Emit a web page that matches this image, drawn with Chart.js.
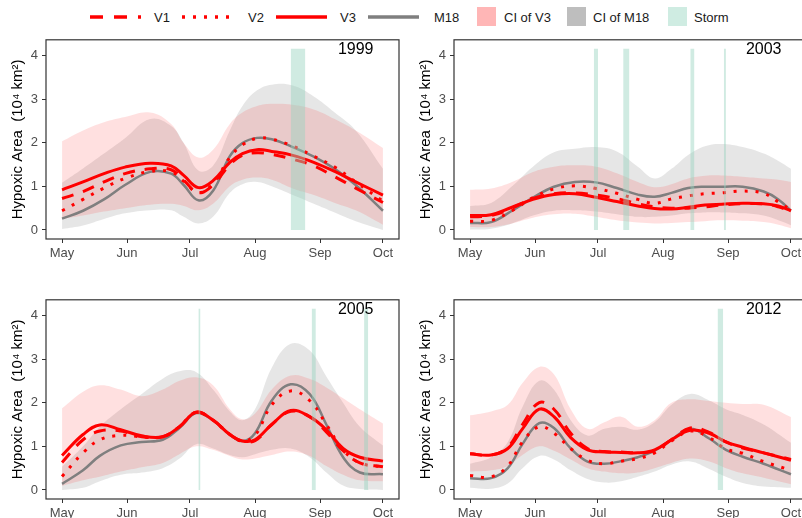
<!DOCTYPE html>
<html>
<head>
<meta charset="utf-8">
<script src="https://cdn.jsdelivr.net/npm/chart.js@4.4.1/dist/chart.umd.min.js"></script>
<style>
  body { margin: 0; width: 802px; height: 518px; overflow: hidden; background: #fff; position: relative; font-family: "Liberation Sans", Arial, sans-serif; }
  canvas { position: absolute; }
  #legend { position: absolute; left: 0; top: 0; }
</style>
</head>
<body>
<svg id="legend" width="802" height="30" font-family="Liberation Sans, Arial, sans-serif" font-size="13" fill="#1a1a1a">
  <line x1="90" y1="17" x2="141" y2="17" stroke="#ff0000" stroke-width="3.5" stroke-dasharray="13 11"/>
  <text x="154" y="21.5">V1</text>
  <line x1="182" y1="17" x2="233" y2="17" stroke="#ff0000" stroke-width="3.5" stroke-dasharray="3 8"/>
  <text x="248" y="21.5">V2</text>
  <line x1="276" y1="17" x2="327" y2="17" stroke="#ff0000" stroke-width="3.5"/>
  <text x="340" y="21.5">V3</text>
  <line x1="368" y1="17" x2="419" y2="17" stroke="#7f7f7f" stroke-width="3.5"/>
  <text x="434" y="21.5">M18</text>
  <rect x="477" y="7" width="19" height="19" fill="#ffb6b6"/>
  <text x="504" y="21.5">CI of V3</text>
  <rect x="567" y="7" width="19" height="19" fill="#bebebe"/>
  <text x="593" y="21.5">CI of M18</text>
  <rect x="668" y="7" width="19" height="19" fill="#cfece2"/>
  <text x="694" y="21.5">Storm</text>
</svg>
<canvas id="p1999" width="402" height="250" style="left:0;top:28px"></canvas>
<canvas id="p2003" width="402" height="250" style="left:408px;top:28px"></canvas>
<canvas id="p2005" width="402" height="250" style="left:0;top:288px"></canvas>
<canvas id="p2012" width="402" height="250" style="left:408px;top:288px"></canvas>
<script>
// axis ticks (days since May 1)
const monthDays = [0, 31, 61, 92, 123, 153];
const monthLabels = ['May', 'Jun', 'Jul', 'Aug', 'Sep', 'Oct'];
const yTicks = [0, 1, 2, 3, 4];
const stormTop = 4.15;

// 1999
const days1999 = [0, 10, 20, 30, 42, 52, 58, 65, 72, 80, 86, 93, 100, 110, 120, 130, 140, 153];
const v1_1999 = [0.72, 0.88, 1.1, 1.29, 1.4, 1.38, 1.14, 0.85, 1.03, 1.5, 1.71, 1.77, 1.73, 1.62, 1.47, 1.22, 0.96, 0.63];
const v2_1999 = [0.44, 0.7, 0.96, 1.18, 1.34, 1.33, 1.12, 0.85, 1.07, 1.66, 1.95, 2.1, 2.08, 1.92, 1.69, 1.44, 1.1, 0.66];
const v3_1999 = [0.92, 1.1, 1.29, 1.44, 1.53, 1.47, 1.25, 0.97, 1.13, 1.55, 1.75, 1.84, 1.8, 1.71, 1.55, 1.34, 1.1, 0.8];
const m18_1999 = [0.26, 0.44, 0.7, 1.03, 1.33, 1.29, 1.03, 0.68, 0.9, 1.69, 1.99, 2.11, 2.08, 1.9, 1.68, 1.4, 1.03, 0.44];
const ciV3lo_1999 = [0.25, 0.33, 0.42, 0.5, 0.58, 0.6, 0.55, 0.45, 0.6, 1.0, 1.15, 1.2, 1.15, 0.95, 0.8, 0.62, 0.45, 0.12];
const ciV3hi_1999 = [2.03, 2.28, 2.47, 2.59, 2.69, 2.43, 1.99, 1.66, 1.84, 2.43, 2.69, 2.84, 2.89, 2.87, 2.76, 2.54, 2.28, 1.88];
const ciM18lo_1999 = [0.02, 0.1, 0.25, 0.38, 0.45, 0.45, 0.3, 0.15, 0.3, 0.85, 1.05, 1.1, 1.0, 0.8, 0.6, 0.4, 0.2, 0.0];
const ciM18hi_1999 = [1.08, 1.41, 1.75, 2.1, 2.54, 2.38, 1.99, 1.36, 1.47, 2.28, 2.84, 3.2, 3.33, 3.31, 3.06, 2.69, 2.28, 1.4];
const storms1999 = [[109, 116]];

// 2003
const days2003 = [0, 10, 20, 30, 40, 50, 60, 70, 80, 88, 96, 104, 112, 120, 130, 140, 147, 153];
const v1_2003 = [0.3, 0.33, 0.5, 0.72, 0.83, 0.85, 0.8, 0.72, 0.6, 0.53, 0.5, 0.5, 0.53, 0.57, 0.6, 0.6, 0.53, 0.42];
const v2_2003 = [0.2, 0.22, 0.44, 0.74, 0.94, 1.01, 0.95, 0.84, 0.7, 0.61, 0.71, 0.78, 0.83, 0.85, 0.89, 0.84, 0.64, 0.46];
const v3_2003 = [0.33, 0.35, 0.52, 0.7, 0.81, 0.83, 0.75, 0.65, 0.55, 0.49, 0.48, 0.52, 0.57, 0.59, 0.61, 0.6, 0.55, 0.44];
const m18_2003 = [0.16, 0.18, 0.44, 0.74, 0.99, 1.1, 1.09, 0.96, 0.81, 0.76, 0.85, 0.96, 0.99, 0.99, 0.99, 0.88, 0.7, 0.44];
const ciV3lo_2003 = [0.07, 0.07, 0.15, 0.28, 0.36, 0.37, 0.3, 0.22, 0.17, 0.15, 0.16, 0.18, 0.2, 0.22, 0.21, 0.18, 0.12, 0.04];
const ciV3hi_2003 = [0.92, 0.95, 1.1, 1.33, 1.45, 1.48, 1.45, 1.3, 1.1, 0.98, 1.05, 1.18, 1.24, 1.25, 1.22, 1.18, 1.15, 1.1];
const ciM18lo_2003 = [0.01, 0.03, 0.15, 0.33, 0.44, 0.45, 0.42, 0.36, 0.3, 0.3, 0.33, 0.38, 0.4, 0.4, 0.38, 0.33, 0.22, 0.11];
const ciM18hi_2003 = [0.55, 0.62, 1.0, 1.45, 1.78, 1.86, 1.9, 1.8, 1.45, 1.18, 1.4, 1.72, 1.92, 1.97, 1.9, 1.75, 1.58, 1.4];
const storms2003 = [[59, 61], [73, 76], [105, 107], [121, 122]];

// 2005
const days2005 = [0, 10, 18, 28, 38, 48, 56, 64, 72, 80, 86, 92, 100, 109, 118, 126, 134, 142, 153];
const v1_2005 = [0.63, 1.15, 1.35, 1.35, 1.22, 1.22, 1.45, 1.78, 1.6, 1.27, 1.12, 1.13, 1.5, 1.8, 1.68, 1.33, 0.9, 0.62, 0.53];
const v2_2005 = [0.31, 0.85, 1.15, 1.25, 1.22, 1.22, 1.45, 1.78, 1.6, 1.27, 1.12, 1.25, 1.95, 2.27, 2.05, 1.5, 0.92, 0.62, 0.53];
const v3_2005 = [0.79, 1.27, 1.49, 1.38, 1.24, 1.22, 1.45, 1.78, 1.6, 1.27, 1.12, 1.15, 1.5, 1.82, 1.68, 1.38, 0.95, 0.75, 0.66];
const m18_2005 = [0.14, 0.45, 0.78, 1.02, 1.1, 1.15, 1.42, 1.76, 1.6, 1.27, 1.12, 1.3, 2.05, 2.42, 2.2, 1.5, 0.75, 0.4, 0.36];
const ciV3lo_2005 = [0.09, 0.22, 0.3, 0.42, 0.52, 0.62, 0.82, 1.0, 0.92, 0.78, 0.7, 0.72, 0.8, 0.88, 0.78, 0.55, 0.35, 0.22, 0.2];
const ciV3hi_2005 = [1.87, 2.25, 2.4, 2.3, 2.15, 2.3, 2.5, 2.58, 2.4, 1.85, 1.62, 1.75, 2.3, 2.62, 2.55, 2.35, 2.1, 1.85, 1.52];
const ciM18lo_2005 = [0.0, 0.05, 0.2, 0.35, 0.4, 0.5, 0.72, 1.05, 0.95, 0.8, 0.75, 0.82, 0.92, 0.95, 0.75, 0.4, 0.1, 0.02, 0.0];
const ciM18hi_2005 = [0.53, 1.0, 1.45, 1.85, 2.2, 2.55, 2.72, 2.7, 2.3, 1.8, 1.6, 1.85, 2.8, 3.35, 3.2, 2.6, 2.0, 1.45, 1.02];
const storms2005 = [[65, 66], [119, 121], [144, 146]];

// 2012
const days2012 = [0, 10, 18, 25, 33, 40, 48, 56, 64, 72, 80, 88, 96, 105, 114, 122, 130, 140, 153];
const v1_2012 = [0.83, 0.8, 0.98, 1.5, 2.0, 1.85, 1.3, 0.95, 0.88, 0.87, 0.85, 0.9, 1.15, 1.42, 1.32, 1.1, 0.96, 0.85, 0.7];
const v2_2012 = [0.33, 0.3, 0.55, 1.1, 1.45, 1.3, 0.95, 0.68, 0.6, 0.66, 0.72, 0.85, 1.12, 1.35, 1.2, 0.94, 0.84, 0.65, 0.45];
const v3_2012 = [0.83, 0.8, 0.95, 1.4, 1.85, 1.68, 1.2, 0.92, 0.87, 0.86, 0.85, 0.92, 1.15, 1.37, 1.3, 1.1, 0.98, 0.85, 0.68];
const m18_2012 = [0.27, 0.27, 0.5, 1.05, 1.53, 1.42, 0.95, 0.65, 0.6, 0.66, 0.75, 0.9, 1.15, 1.4, 1.18, 0.92, 0.76, 0.6, 0.36];
const ciV3lo_2012 = [0.42, 0.45, 0.55, 0.8, 1.0, 0.9, 0.7, 0.5, 0.42, 0.38, 0.4, 0.5, 0.62, 0.72, 0.65, 0.5, 0.38, 0.28, 0.13];
const ciV3hi_2012 = [1.71, 1.8, 1.95, 2.45, 2.82, 2.65, 1.85, 1.4, 1.55, 1.68, 1.45, 1.6, 2.0, 2.08, 2.04, 2.0, 1.97, 1.95, 1.67];
const ciM18lo_2012 = [0.05, 0.03, 0.15, 0.5, 0.78, 0.7, 0.45, 0.25, 0.17, 0.2, 0.3, 0.42, 0.58, 0.65, 0.48, 0.3, 0.16, 0.08, 0.05];
const ciM18hi_2012 = [0.6, 0.75, 1.1, 1.9, 2.5, 2.3, 1.6, 1.25, 1.4, 1.45, 1.38, 1.55, 1.95, 2.2, 2.05, 1.85, 1.72, 1.5, 1.08];
const storms2012 = [[118, 120.7]];

const RED = '#ff0000';
const GREY = '#7f7f7f';
const PINK_FILL = 'rgba(255, 0, 0, 0.12)';
const GREY_FILL = 'rgba(128, 128, 128, 0.2)';
const STORM_FILL = 'rgba(150, 210, 190, 0.45)';
const NONE = 'rgba(0,0,0,0)';

// panel frame + year label
const panelBox = {
  id: 'panelBox',
  afterDatasetsDraw(chart, args, opts) {
    const a = chart.chartArea, ctx = chart.ctx;
    ctx.save();
    ctx.strokeStyle = '#333';
    ctx.lineWidth = 1.2;
    ctx.strokeRect(a.left, a.top, a.right - a.left, a.bottom - a.top);
    ctx.fillStyle = '#000';
    ctx.font = '16px "Liberation Sans", Arial, sans-serif';
    ctx.textAlign = 'center';
    ctx.textBaseline = 'middle';
    ctx.fillText(opts.year, chart.scales.x.getPixelForValue(140), chart.scales.y.getPixelForValue(4.13));
    ctx.restore();
  }
};

function pts(days, vals) {
  return days.map((d, i) => ({ x: d, y: vals[i] }));
}

function lineSet(data, color, width, dash, order) {
  return {
    data: data, borderColor: color, borderWidth: width, borderDash: dash,
    borderCapStyle: 'butt', fill: false, pointRadius: 0, pointHoverRadius: 0,
    tension: 0.4, order: order
  };
}

function bandSet(data, fill, color, order) {
  return {
    data: data, borderColor: NONE, borderWidth: 1, fill: fill, backgroundColor: color,
    pointRadius: 0, pointHoverRadius: 0, tension: 0.4, order: order
  };
}

function makePanel(id, year, days, v1, v2, v3, m18, v3lo, v3hi, mlo, mhi, storms) {
  const datasets = [
    bandSet(pts(days, v3hi), '+1', PINK_FILL, 8),
    bandSet(pts(days, v3lo), false, NONE, 8),
    bandSet(pts(days, mhi), '+1', GREY_FILL, 9),
    bandSet(pts(days, mlo), false, NONE, 9),
    lineSet(pts(days, m18), GREY, 2.5, [], 5),
    lineSet(pts(days, v3), RED, 3, [], 4),
    lineSet(pts(days, v1), RED, 3, [12, 10], 3),
    lineSet(pts(days, v2), RED, 3, [3, 8], 2)
  ];
  storms.forEach(s => {
    datasets.push({
      data: [{ x: s[0], y: stormTop }, { x: s[1], y: stormTop }],
      borderColor: NONE, borderWidth: 1, fill: 'origin', backgroundColor: STORM_FILL,
      pointRadius: 0, pointHoverRadius: 0, tension: 0, order: 1
    });
  });

  const tickFont = { family: '"Liberation Sans", Arial, sans-serif', size: 13 };
  return new Chart(document.getElementById(id), {
    type: 'line',
    data: { datasets: datasets },
    plugins: [panelBox],
    options: {
      responsive: false,
      animation: false,
      layout: { padding: { top: 5, right: 3, bottom: 0, left: 0 } },
      plugins: { legend: { display: false }, tooltip: { enabled: false }, panelBox: { year: year } },
      scales: {
        x: {
          type: 'linear', min: -7.65, max: 160.65,
          afterBuildTicks: s => { s.ticks = monthDays.map(v => ({ value: v })); },
          afterFit: s => { s.height = 39; },
          ticks: {
            color: '#4d4d4d', font: tickFont, padding: 3, maxRotation: 0, autoSkip: false,
            callback: v => monthLabels[monthDays.indexOf(v)]
          },
          grid: { drawOnChartArea: false, drawTicks: true, tickLength: 4, tickColor: '#333', tickWidth: 1 },
          border: { display: false }
        },
        y: {
          type: 'linear', min: -0.2075, max: 4.3575,
          afterBuildTicks: s => { s.ticks = yTicks.map(v => ({ value: v })); },
          afterFit: s => { s.width = 46; },
          ticks: { color: '#4d4d4d', font: tickFont, padding: 4 },
          grid: { drawOnChartArea: false, drawTicks: true, tickLength: 4, tickColor: '#333', tickWidth: 1 },
          border: { display: false },
          title: {
            display: true, text: 'Hypoxic Area  (10\u2074 km\u00b2)', color: '#000',
            font: { family: '"Liberation Sans", Arial, sans-serif', size: 15 },
            padding: { top: 9, bottom: 0 }
          }
        }
      }
    }
  });
}

makePanel('p1999', '1999', days1999, v1_1999, v2_1999, v3_1999, m18_1999, ciV3lo_1999, ciV3hi_1999, ciM18lo_1999, ciM18hi_1999, storms1999);
makePanel('p2003', '2003', days2003, v1_2003, v2_2003, v3_2003, m18_2003, ciV3lo_2003, ciV3hi_2003, ciM18lo_2003, ciM18hi_2003, storms2003);
makePanel('p2005', '2005', days2005, v1_2005, v2_2005, v3_2005, m18_2005, ciV3lo_2005, ciV3hi_2005, ciM18lo_2005, ciM18hi_2005, storms2005);
makePanel('p2012', '2012', days2012, v1_2012, v2_2012, v3_2012, m18_2012, ciV3lo_2012, ciV3hi_2012, ciM18lo_2012, ciM18hi_2012, storms2012);
</script>
</body>
</html>
